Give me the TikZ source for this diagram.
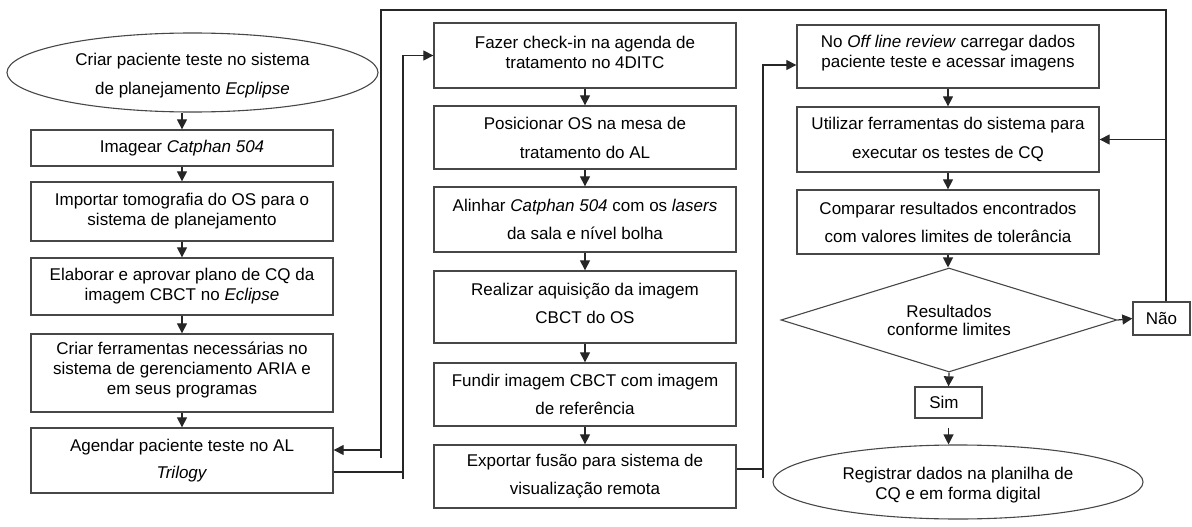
\documentclass[tikz,border=0pt]{standalone}
\usepackage{fontspec}
\setmainfont{Liberation Sans}
\usetikzlibrary{shapes.geometric,arrows.meta}
\tikzset{
  boxnode/.style={draw=black!72, line width=1.3pt, inner sep=0pt, align=center, rectangle},
  ellnode/.style={draw=black!72, line width=1.1pt, inner sep=0pt, align=center, ellipse},
  dianode/.style={draw=black!72, line width=1.1pt, inner sep=0pt, align=center, diamond, aspect=3.2},
  txt/.style={inner sep=0pt, align=center},
  conn/.style={draw=black!85, line width=1.2pt},
  arr/.style={conn, -{Triangle[length=10pt,width=10pt]}},
}
\begin{document}
\begin{tikzpicture}[x=1pt,y=-1pt,font=\fontsize{17}{20}\selectfont]
\useasboundingbox (0,0) rectangle (1192,527);
% left column
\node[ellnode, minimum width=371pt, minimum height=79pt] (e1) at (192.5,72.5) {};
\node[txt] (e1t) at (192.5,76) {Criar paciente teste no sistema\\[9pt]de planejamento \textit{Ecplipse}};
\node[boxnode, minimum width=302pt, minimum height=36pt] (imagear) at (182,148) {Imagear \textit{Catphan 504}};
\node[boxnode, minimum width=302pt, minimum height=59pt] (importar) at (182,211.5) {Importar tomografia do OS para o\\sistema de planejamento};
\node[boxnode, minimum width=302pt, minimum height=57pt] (elaborar) at (182,286.5) {Elaborar e aprovar plano de CQ da\\imagem CBCT no \textit{Eclipse}};
\node[boxnode, minimum width=302pt, minimum height=78pt] (criar) at (182,373) {};
\node[txt] (criart) at (182,370.5) {Criar ferramentas necessárias no\\sistema de gerenciamento ARIA e\\em seus programas};
\node[boxnode, minimum width=302pt, minimum height=65pt] (agendar) at (182,460.5) {Agendar paciente teste no AL\\[7pt]\textit{Trilogy}};
% middle column
\node[boxnode, minimum width=302pt, minimum height=65pt] (fazer) at (585,55.5) {};
\node[txt] (fazert) at (585,52) {Fazer check-in na agenda de\\tratamento no 4DITC};
\node[boxnode, minimum width=302pt, minimum height=63pt] (posic) at (585,137.5) {Posicionar OS na mesa de\\[9pt]tratamento do AL};
\node[boxnode, minimum width=302pt, minimum height=65pt] (alinhar) at (585,219.5) {Alinhar \textit{Catphan 504} com os \textit{lasers}\\[8pt]da sala e nível bolha};
\node[boxnode, minimum width=302pt, minimum height=72pt] (realizar) at (585,307) {};
\node[txt] (realizart) at (585,303) {Realizar aquisição da imagem\\[8pt]CBCT do OS};
\node[boxnode, minimum width=302pt, minimum height=63pt] (fundir) at (585,394.5) {Fundir imagem CBCT com imagem\\[8pt]de referência};
\node[boxnode, minimum width=302pt, minimum height=63pt] (exportar) at (585,476.5) {Exportar fusão para sistema de\\[8pt]visualização remota};
% right column
\node[boxnode, minimum width=302pt, minimum height=63pt] (nooff) at (948,56.5) {};
\node[txt] (noofft) at (948,53.5) {No \textit{Off line review} carregar dados\\paciente teste e acessar imagens};
\node[boxnode, minimum width=302pt, minimum height=65pt] (utilizar) at (948,139.5) {Utilizar ferramentas do sistema para\\[9pt]executar os testes de CQ};
\node[boxnode, minimum width=302pt, minimum height=64pt] (comparar) at (948,222) {Comparar resultados encontrados\\[8pt]com valores limites de tolerância};
\node[dianode, minimum width=336pt, minimum height=104pt] (dec) at (949,320) {Resultados\\[-2pt]conforme limites};
\node[boxnode, minimum width=57pt, minimum height=33pt] (nao) at (1161.5,318.5) {Não};
\node[boxnode, minimum width=67pt, minimum height=31pt] (sim) at (948.5,402.5) {};
\node[txt] (simt) at (944,402.5) {Sim};
\node[ellnode, minimum width=370pt, minimum height=74pt] (e2) at (958,482) {};
\node[txt] (e2t) at (958,485) {Registrar dados na planilha de\\CQ e em forma digital};
% vertical arrows
\draw[arr] (e1.south -| imagear.north) -- (imagear.north);
\draw[arr] (imagear) -- (importar);
\draw[arr] (importar) -- (elaborar);
\draw[arr] (elaborar) -- (criar);
\draw[arr] (criar) -- (agendar);
\draw[arr] (fazer) -- (posic);
\draw[arr] (posic) -- (alinhar);
\draw[arr] (alinhar) -- (realizar);
\draw[arr] (realizar) -- (fundir);
\draw[arr] (fundir) -- (exportar);
\draw[arr] (nooff) -- (utilizar);
\draw[arr] (utilizar) -- (comparar);
\draw[arr] (comparar.south) -- (comparar.south |- dec.north);
\draw[arr] (dec.east) -- (nao.west);
\draw[arr] (dec.south) -- (sim.north);
\draw[arr, shorten <=9pt] (sim.south) -- (sim.south |- e2.north);
% loop from Nao
\coordinate (tr) at (1166,10);
\coordinate (tl) at (381,10);
\coordinate (bl) at (381,458);
\coordinate (jl) at (381,450);
\draw[conn] (tr |- nao.north) -- (tr) -- (tl) -- (bl);
\draw[arr] (jl) -- (jl -| agendar.east);
\draw[arr] (tr |- utilizar.east) -- (utilizar.east);
% agendar -> fazer
\coordinate (a1) at (403,472);
\coordinate (a1b) at (403,479);
\draw[conn] (a1 -| agendar.east) -- (a1);
\draw[arr] (a1b) -- (a1b |- fazer.west) -- (fazer.west);
% exportar -> nooff
\coordinate (b1) at (763,469);
\coordinate (b1b) at (763,478);
\coordinate (b1t) at (763,65);
\draw[conn] (b1 -| exportar.east) -- (b1);
\draw[arr] (b1b) -- (b1t) -- (b1t -| nooff.west);
\end{tikzpicture}
\end{document}
